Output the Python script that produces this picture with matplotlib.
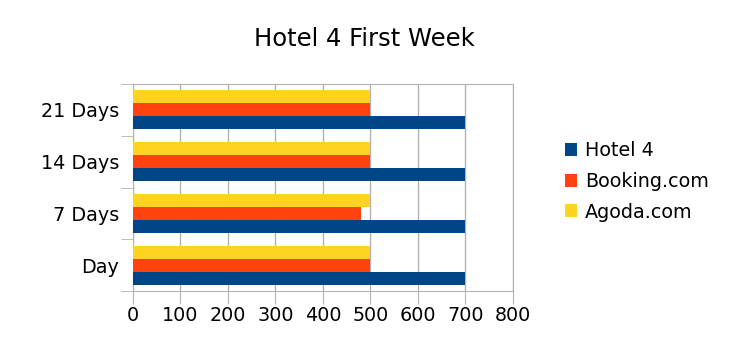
import numpy as np
import matplotlib.pyplot as plt

categories = ['Day', '7 Days', '14 Days', '21 Days']
hotel4 = [700, 700, 700, 700]
booking = [500, 480, 500, 500]
agoda = [500, 500, 500, 500]

series = [('Hotel 4', hotel4, '#004586'),
          ('Booking.com', booking, '#ff420e'),
          ('Agoda.com', agoda, '#ffd320')]

fig = plt.figure(figsize=(7.29, 3.63), dpi=100)
ax = fig.add_axes([0.1824, 0.1983, 0.5213, 0.5703])

y = np.arange(len(categories))
h = 0.25
for i, (name, vals, col) in enumerate(series):
    ax.barh(y + (i - 1) * h, vals, height=h, color=col, label=name, zorder=3)

ax.set_xlim(0, 800)
ax.set_ylim(-0.5, len(categories) - 0.5)
ax.set_xticks(range(0, 801, 100))
ax.set_yticks(y)
ax.set_yticklabels(categories)
ax.set_yticks(np.arange(-0.5, len(categories), 1), minor=True)
ax.tick_params(axis='y', which='major', length=0, labelsize=13.8, pad=10)
ax.tick_params(axis='y', which='minor', length=9, color='#b3b3b3')
ax.tick_params(axis='x', length=9, color='#b3b3b3', labelsize=13.8, pad=2)
ax.grid(axis='x', color='#b3b3b3', linewidth=1, zorder=0)
for s in ax.spines.values():
    s.set_color('#b3b3b3')

fig.suptitle('Hotel 4 First Week', fontsize=17.5, y=0.925)

handles, labels = ax.get_legend_handles_labels()
fig.legend(handles, labels, loc='center left', bbox_to_anchor=(0.751, 0.5),
           frameon=False, fontsize=13.8, handlelength=0.65, handleheight=0.65,
           handletextpad=0.4, labelspacing=0.6)

fig.savefig('out.png', dpi=100)
